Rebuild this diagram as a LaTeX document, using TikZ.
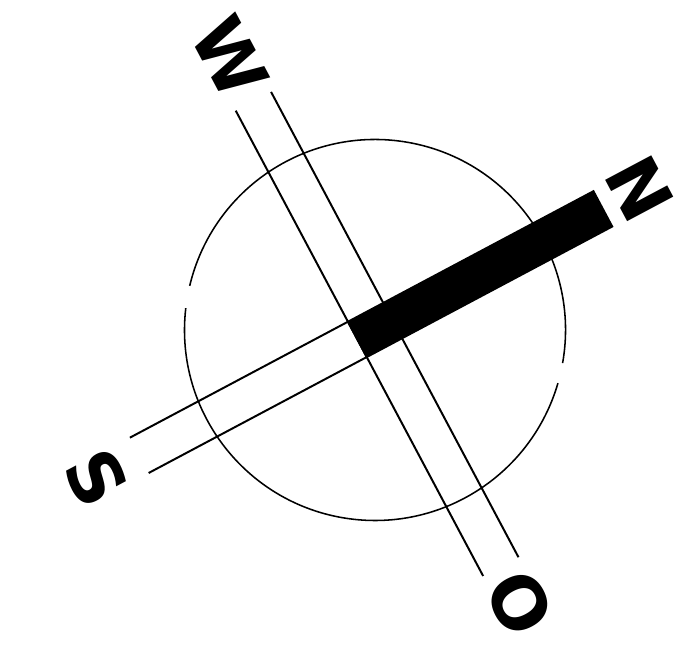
\documentclass[tikz,border=0pt]{standalone}
\usepackage{fontspec}
\newfontfamily\compassfont{DejaVu Sans}
\usetikzlibrary{positioning}

\begin{document}
\begin{tikzpicture}[x=0.025cm,y=0.025cm,
  rim/.style={line width=1.1pt,black},
  rod/.style={line width=1.4pt,black},
  letter/.style={font=\compassfont\bfseries\fontsize{51pt}{51pt}\selectfont,inner sep=0pt,rotate=-62}]
\path[use as bounding box] (0,0) rectangle (681,656);

% dial (two arcs, the scan leaves small gaps)
\begin{scope}[shift={(375,326)}]
  \draw[rim] (173.4:190.5) arc[start angle=173.4,end angle=343.8,radius=190.5];
  \draw[rim] (350:190.5) arc[start angle=350,end angle=526.6,radius=190.5];
\end{scope}

% needle, turned so that N points to the upper right
\begin{scope}[shift={(375,326)},rotate=28]
  \foreach \side in {-20,20}{
    \coordinate (sEnd\side) at (-267,\side);
    \coordinate (sHub\side) at (-20,\side);
    \coordinate (wEnd\side) at (\side,259);
    \coordinate (oEnd\side) at (\side,-268);
    \draw[rod] (sEnd\side) -- (sHub\side);
    \draw[rod] (wEnd\side) -- (oEnd\side);
  }
  \coordinate (nEnd) at (258,20);
  \filldraw[rod] (sHub-20) rectangle (nEnd);

  \node[letter] (north) at (300,0) {N};
  \node[letter] (west) at (0,309) {W};
  \node[letter] (south) at (-315,0) {S};
  \node[letter] (east) at (0,-309) {O};
\end{scope}
\end{tikzpicture}
\end{document}
